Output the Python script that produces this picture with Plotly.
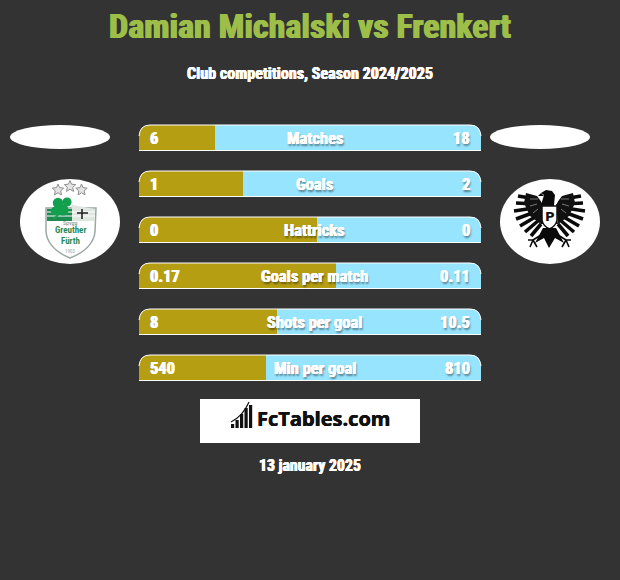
import math
import plotly.graph_objects as go

title = "Damian Michalski vs Frenkert"
subtitle = "Club competitions, Season 2024/2025"
date_label = "13 january 2025"
brand = "FcTables.com"
categories = ["Matches", "Goals", "Hattricks", "Goals per match", "Shots per goal", "Min per goal"]
left_labels = ["6", "1", "0", "0.17", "8", "540"]
right_labels = ["18", "2", "0", "0.11", "10.5", "810"]
left_share = [22.2, 30.3, 52.0, 57.6, 40.3, 37.1]
right_share = [77.8, 69.7, 48.0, 42.4, 59.7, 62.9]

BG = "#333333"
GOLD = "#b69e12"
SKY = "#97e4ff"
FONT = "Roboto Condensed"
SHADOW = "1px 2px 2px rgba(0,0,0,0.45)"

fig = go.Figure()
fig.add_trace(go.Bar(y=categories, x=left_share, orientation="h", marker=dict(color=GOLD, line_width=0), hoverinfo="skip"))
fig.add_trace(go.Bar(y=categories, x=right_share, orientation="h", marker=dict(color=SKY, line_width=0), hoverinfo="skip"))

shapes = []
annos = []

def P(d, fill=None, line=None, w=0, layer="above"):
    shapes.append(dict(type="path", path=d, xref="x2", yref="y2", fillcolor=fill or "rgba(0,0,0,0)",
                       line=dict(color=line or "rgba(0,0,0,0)", width=w), layer=layer))

def E(x0, y0, x1, y1, fill):
    shapes.append(dict(type="circle", x0=x0, x1=x1, y0=y0, y1=y1, xref="x2", yref="y2",
                       fillcolor=fill, line_width=0, layer="above"))

def T(x, y, s, size, color="#ffffff", weight="bold", font=FONT, anchor="center", shadow=None):
    f = dict(family=font, size=size, color=color, weight=weight)
    if shadow:
        f["shadow"] = shadow
    annos.append(dict(x=x, y=y, xref="x2", yref="y2", text=s, showarrow=False, font=f,
                      xanchor=anchor, yanchor="middle", borderpad=0))

def heavy(color, extra=None, d=0.4):
    parts = [f"{d}px 0 0 {color}", f"-{d}px 0 0 {color}"]
    if extra:
        parts.append(extra)
    return ", ".join(parts)

# bar row trims: rounded top corners and thin white edge
L, R, r = 139.0, 481.0, 11.0
for i in range(len(categories)):
    top = 125 + 46 * i
    bot = top + 26
    P(f"M{L-1},{top-1} H{L+r} Q{L+1},{top} {L},{top+r} L{L-1},{top+r} Z", fill=BG)
    P(f"M{R+1},{top-1} H{R-r} Q{R-1},{top} {R},{top+r} L{R+1},{top+r} Z", fill=BG)
    P(f"M{L},{top+r} Q{L+1},{top} {L+r},{top} H{R-r} Q{R-1},{top} {R},{top+r}", line="#ffffff", w=1)
    P(f"M{L},{bot-0.5} H{R}", line="#ffffff", w=1)
    T(149, top + 13, left_labels[i], 16.5, anchor="left", shadow=heavy("#ffffff"))
    T(314.5, top + 13, categories[i], 16.5, shadow=heavy("#ffffff", SHADOW))
    T(471, top + 13, right_labels[i], 16.5, anchor="right", shadow=heavy("#ffffff", SHADOW))

T(310, 26, title, 34, color="#9dbf4a", shadow=heavy("#9dbf4a", d=0.7))
T(310, 73, subtitle, 16.1, shadow=heavy("#ffffff"))
T(310, 465, date_label, 15.8, shadow=heavy("#ffffff"))

# player ovals and crest ovals
E(10, 125, 110, 149, "#ffffff")
E(490, 125, 590, 149, "#ffffff")
E(20, 179, 120, 264, "#ffffff")
E(500, 179, 600, 264, "#ffffff")

# left crest
def star(cx, cy, ro, ri):
    pts = []
    for k in range(10):
        a = -math.pi / 2 + k * math.pi / 5
        rad = ro if k % 2 == 0 else ri
        pts.append(f"{cx + rad * math.cos(a):.1f},{cy + rad * math.sin(a):.1f}")
    return "M" + " L".join(pts) + " Z"

for cx, cy in [(58, 190), (70, 186.5), (81.5, 190)]:
    P(star(cx, cy, 6, 2.8), fill="#e4e4e4", line="#8f8f8f", w=1)
P("M46,208 L96,208 L95,232 Q93,249 70,258 Q48,249 46,232 Z", fill="#ffffff", line="#9aa89f", w=1.5)
P("M47,209 L72,209 L72,221 L47,221 Z", fill="#1f8a50")
P("M72,205 L95,209 L95,221 L72,221 Z", fill="#dfe6e0")
P("M47,212 H95 M47,216 H95", line="#ffffff", w=1)
P("M77,213 H88 M82,209 V219", line="#222222", w=1.6)
for cx, cy, rad in [(58, 203, 5.2), (67, 202, 4.6), (63, 210, 5.5), (55, 211, 4.2)]:
    E(cx - rad, cy - rad, cx + rad, cy + rad, "#12a04f")
P("M60,212 Q57,217 53,219", line="#12a04f", w=2)
T(70, 222, "Spvgg", 6, color="#7b8a80", weight="normal")
T(70, 230, "Greuther", 9, color="#2c8a57")
T(70, 241, "Fürth", 9, color="#2c8a57")
T(70, 251, "1903", 5, color="#9aa89f", weight="normal")

# right crest: eagle
cxe = 549.5
def mirror(x):
    return 2 * cxe - x
feathers = [
    ((536, 199), (518, 196)), ((535, 204), (516, 203)), ((534, 208), (514, 211)),
    ((535, 212), (516, 219)), ((537, 216), (520, 226)), ((539, 220), (525, 232)),
    ((541, 224), (531, 236)),
]
for (x0, y0), (x1, y1) in feathers:
    for f in (lambda v: v, mirror):
        xa, xb = f(x0), f(x1)
        P(f"M{xa},{y0} L{xb},{y1}", line="#0a0a0a", w=3.6)
for f in (lambda v: v, mirror):
    P(f"M{f(543)},204 L{f(537)},196 L{f(526)},193 L{f(524)},203 L{f(530)},216 L{f(541)},224 Z", fill="#111111")
    P(f"M{f(538)},199 L{f(530)},199 M{f(537)},204 L{f(530)},206 M{f(538)},209 L{f(533)},213",
      line="#777777", w=1)
    P(f"M{f(543)},204 Q{f(541)},198 {f(539)},195", line="#ffffff", w=1.5)
P("M541,205 L544,195 L541,193 L546,190 L552,191 L555,195 L554,205 L558,224 L541,224 Z", fill="#0a0a0a")
P("M541,193 L538,196 L544,196 Z", fill="#0a0a0a")
P("M542,206 H557 V220 Q556,226 549.5,229 Q543,226 542,220 Z", fill="#ffffff", line="#111111", w=1.5)
T(549.5, 216, "P", 13, color="#111111", font="DejaVu Sans")
P("M543,228 L535,243 L544,238 L549,248 L555,238 L564,243 L556,228 Z", fill="#0a0a0a")
for f in (lambda v: v, mirror):
    P(f"M{f(541)},235 L{f(533)},240 M{f(533)},240 L{f(528)},240 M{f(533)},240 L{f(530)},247 M{f(533)},240 L{f(537)},247",
      line="#0a0a0a", w=1.6)

# brand box
shapes.append(dict(type="rect", x0=200, x1=420, y0=399, y1=443, xref="x2", yref="y2",
                   fillcolor="#ffffff", line_width=0, layer="above"))
for x0, h in [(231, 4), (235.5, 8), (240, 14), (244.5, 20), (249, 23)]:
    shapes.append(dict(type="rect", x0=x0, x1=x0 + 3.2, y0=428 - h, y1=428, xref="x2", yref="y2",
                       fillcolor="#111111", line_width=0, layer="above"))
P("M231,422 Q243,416 249,402", line="#111111", w=1.2)
T(323, 418.5, brand, 20, color="#111111", font="Open Sans", shadow=heavy("#111111", d=0.3))

fig.add_trace(go.Scatter(x=[0], y=[0], xaxis="x2", yaxis="y2", mode="markers", marker=dict(opacity=0), hoverinfo="skip"))
fig.update_layout(
    width=620, height=580, autosize=False, showlegend=False,
    margin=dict(l=0, r=0, t=0, b=0),
    paper_bgcolor=BG, plot_bgcolor="rgba(0,0,0,0)",
    barmode="stack", bargap=20 / 46,
    xaxis=dict(domain=[139 / 620, 481 / 620], range=[0, 100], visible=False, fixedrange=True, anchor="y"),
    yaxis=dict(domain=[(580 - 391) / 580, (580 - 115) / 580], autorange="reversed", visible=False,
               fixedrange=True, type="category", categoryorder="array", categoryarray=categories, anchor="x"),
    xaxis2=dict(domain=[0, 1], range=[0, 620], visible=False, fixedrange=True, anchor="y2"),
    yaxis2=dict(domain=[0, 1], range=[580, 0], visible=False, fixedrange=True, anchor="x2"),
    shapes=shapes, annotations=annos,
)
fig.write_html("out.html", config={"displayModeBar": False, "responsive": False},
               post_script="document.body.style.margin='0';document.documentElement.style.overflow='hidden';")
